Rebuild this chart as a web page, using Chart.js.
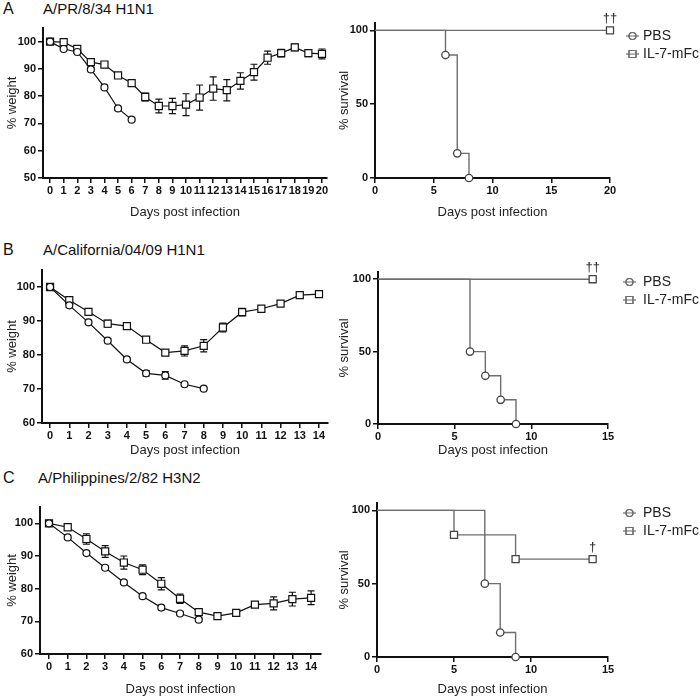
<!DOCTYPE html>
<html>
<head>
<meta charset="utf-8">
<script src="https://cdn.jsdelivr.net/npm/chart.js@4.4.1/dist/chart.umd.min.js"></script>
<style>
  body { margin: 0; background: #fff; font-family: 'Liberation Sans', Arial, sans-serif; }
  #wrap { position: relative; width: 700px; height: 699px; overflow: hidden; }
  canvas { position: absolute; }
  .lbl { position: absolute; font-size: 16px; line-height: 16px; color: #111; white-space: nowrap; }
  .ttl { font-size: 15px; }
</style>
</head>
<body>
<div id="wrap">
  <div class="lbl" style="left:3px;top:1px">A</div>
  <div class="lbl ttl" style="left:43px;top:1px">A/PR/8/34 H1N1</div>
  <div class="lbl" style="left:3px;top:242px">B</div>
  <div class="lbl ttl" style="left:43px;top:242px">A/California/04/09 H1N1</div>
  <div class="lbl" style="left:3px;top:470px">C</div>
  <div class="lbl ttl" style="left:38px;top:470px">A/Philippines/2/82 H3N2</div>

  <canvas id="weightA" width="335" height="222" style="left:0;top:0"></canvas>
  <canvas id="survA" width="370" height="222" style="left:330px;top:0"></canvas>
  <canvas id="weightB" width="335" height="220" style="left:0;top:240px"></canvas>
  <canvas id="survB" width="370" height="220" style="left:330px;top:240px"></canvas>
  <canvas id="weightC" width="335" height="229" style="left:0;top:470px"></canvas>
  <canvas id="survC" width="370" height="229" style="left:330px;top:470px"></canvas>
</div>
<script>
// Panel A - A/PR/8/34 H1N1
const aDays = [0, 1, 2, 3, 4, 5, 6, 7, 8, 9, 10, 11, 12, 13, 14, 15, 16, 17, 18, 19, 20];
const aPbsDays = [0, 1, 2, 3, 4, 5, 6];
const aPbsWeight = [100, 97.3, 96.2, 89.8, 83.2, 75.5, 71.4];
const aPbsErr = [0, 0.3, 0.5, 0.6, 0.5, 0.5, 0.5];
const aIl7Weight = [100, 99.8, 97.3, 92.5, 91.6, 87.6, 84.8, 79.7, 76.4, 76.4, 76.9, 79.5, 82.8, 82.2, 85.6, 88.8, 94.1, 95.8, 97.9, 95.8, 95.5];
const aIl7Err = [0, 0.6, 0.8, 0.8, 0.6, 1.0, 1.2, 1.4, 2.5, 2.8, 4.0, 4.6, 4.3, 3.9, 3.0, 2.9, 2.4, 1.4, 1.2, 1.3, 1.8];
const aWeightTicks = [50, 60, 70, 80, 90, 100];
const aSurvPbsDays = [0, 6, 7, 8];
const aSurvPbs = [100, 83.3, 16.7, 0];
const aSurvIl7Days = [0, 20];
const aSurvIl7 = [100, 100];
const aSurvTicksX = [0, 5, 10, 15, 20];

// Panel B - A/California/04/09 H1N1
const bDays = [0, 1, 2, 3, 4, 5, 6, 7, 8, 9, 10, 11, 12, 13, 14];
const bPbsDays = [0, 1, 2, 3, 4, 5, 6, 7, 8];
const bPbsWeight = [100, 94.6, 89.6, 84.2, 78.7, 74.6, 74.0, 71.4, 70.1];
const bPbsErr = [0, 0.6, 0.4, 0.6, 0.4, 0.8, 1.1, 0.4, 0.3];
const bIl7Weight = [100, 96.1, 92.7, 89.2, 88.5, 84.5, 80.7, 81.2, 82.7, 88.1, 92.6, 93.6, 95.1, 97.6, 97.9];
const bIl7Err = [0, 0.5, 0.4, 1.0, 0.5, 0.4, 0.6, 1.5, 1.8, 1.3, 1.1, 0.6, 0.5, 0.4, 0.7];
const bWeightTicks = [60, 70, 80, 90, 100];
const bSurvPbsDays = [0, 6, 7, 8, 9];
const bSurvPbs = [100, 50, 33.3, 16.7, 0];
const bSurvIl7Days = [0, 14];
const bSurvIl7 = [100, 100];

// Panel C - A/Philippines/2/82 H3N2
const cDays = [0, 1, 2, 3, 4, 5, 6, 7, 8, 9, 10, 11, 12, 13, 14];
const cPbsDays = [0, 1, 2, 3, 4, 5, 6, 7, 8];
const cPbsWeight = [100, 95.7, 90.9, 86.4, 81.9, 77.7, 74.2, 72.4, 70.5];
const cPbsErr = [0, 0.4, 0.4, 0.4, 0.4, 0.4, 0.7, 0.6, 0.4];
const cIl7Weight = [100, 98.8, 95.2, 91.4, 88.0, 85.8, 81.5, 76.9, 72.8, 71.6, 72.6, 75.1, 75.5, 76.8, 77.2];
const cIl7Err = [0, 0.6, 1.6, 1.8, 2.0, 1.5, 1.9, 1.4, 0.8, 0.4, 0.4, 0.5, 2.0, 2.1, 2.1];
const cWeightTicks = [60, 70, 80, 90, 100];
const cSurvPbsDays = [0, 7, 8, 9];
const cSurvPbs = [100, 50, 16.7, 0];
const cSurvIl7Days = [0, 5, 9, 14];
const cSurvIl7 = [100, 83.3, 66.7, 66.7];

const survTicksY = [0, 50, 100];
const survTicks15 = [0, 5, 10, 15];
const seriesNames = ['PBS', 'IL-7-mFc'];

const FONT = "'Liberation Sans', Arial, sans-serif";
const tickFont = { family: FONT, size: 11, weight: 'bold' };
const titleFont = { family: FONT, size: 13 };
const survGrey = '#6e6e6e';

function pairs(xs, ys) {
    return xs.map(function(x, i) { return { x: x, y: ys[i] }; });
}

// error bars (SD) drawn behind the markers
const errorBarPlugin = {
    id: 'errorBars',
    beforeDatasetsDraw(chart) {
        const ctx = chart.ctx;
        const xs = chart.scales.x, ys = chart.scales.y;
        chart.data.datasets.forEach(function(ds) {
            if (!ds.errorBars) return;
            ctx.save();
            ctx.strokeStyle = '#111';
            ctx.lineWidth = 1.2;
            ds.data.forEach(function(p, i) {
                const e = ds.errorBars[i];
                if (!e) return;
                const px = xs.getPixelForValue(p.x);
                const top = ys.getPixelForValue(p.y + e);
                const bot = ys.getPixelForValue(p.y - e);
                ctx.beginPath();
                ctx.moveTo(px, top); ctx.lineTo(px, bot);
                ctx.moveTo(px - 3.5, top); ctx.lineTo(px + 3.5, top);
                ctx.moveTo(px - 3.5, bot); ctx.lineTo(px + 3.5, bot);
                ctx.stroke();
            });
            ctx.restore();
        });
    }
};

// legend with line + marker, and dagger marks
const survExtras = {
    id: 'survExtras',
    afterDraw(chart, args, opts) {
        const ctx = chart.ctx;
        const area = chart.chartArea;
        ctx.save();
        // daggers
        if (opts.dagger) {
            const d = opts.dagger;
            ctx.fillStyle = '#222';
            ctx.font = '13px ' + FONT;
            ctx.textAlign = 'center';
            ctx.textBaseline = 'bottom';
            ctx.fillText(d.text, chart.scales.x.getPixelForValue(d.x), chart.scales.y.getPixelForValue(d.y) - 5);
        }
        // legend
        const x0 = area.right + opts.legendX;
        chart.data.datasets.forEach(function(ds, i) {
            const y = opts.legendY + i * 18;
            ctx.strokeStyle = survGrey;
            ctx.lineWidth = 1.2;
            ctx.beginPath();
            ctx.moveTo(x0, y); ctx.lineTo(x0 + 13, y);
            ctx.stroke();
            ctx.fillStyle = '#fff';
            ctx.beginPath();
            if (ds.pointStyle === 'rect') {
                ctx.rect(x0 + 3, y - 3.5, 7, 7);
            } else {
                ctx.arc(x0 + 6.5, y, 3.5, 0, Math.PI * 2);
            }
            ctx.fill();
            ctx.stroke();
            ctx.moveTo(x0 + 3, y); ctx.lineTo(x0 + 10, y);
            ctx.stroke();
            ctx.fillStyle = '#222';
            ctx.font = '14px ' + FONT;
            ctx.textAlign = 'left';
            ctx.textBaseline = 'middle';
            ctx.fillText(ds.label, x0 + opts.textGap, y);
        });
        ctx.restore();
    }
};

function axis(min, max, ticks, size, isX, title, titlePad) {
    return {
        type: 'linear',
        min: min,
        max: max,
        afterBuildTicks: function(s) { s.ticks = ticks.map(function(v) { return { value: v }; }); },
        afterFit: function(s) { if (isX) { s.height = size; } else { s.width = size; } },
        grid: { drawOnChartArea: false, drawTicks: true, tickLength: 5, color: '#111', lineWidth: 1.5 },
        border: { color: '#111', width: 2 },
        ticks: { font: tickFont, color: '#111', padding: isX ? 1 : 2, autoSkip: false, maxRotation: 0 },
        title: { display: true, text: title, font: titleFont, color: '#222', padding: titlePad }
    };
}

function weightChart(id, pbsDays, pbsW, pbsE, il7Days, il7W, il7E, xMin, xMax, yMin, yTicks, yWidth, xHeight, pad) {
    return new Chart(document.getElementById(id), {
        type: 'line',
        data: {
            datasets: [{
                label: seriesNames[0],
                data: pairs(pbsDays, pbsW),
                errorBars: pbsE,
                borderColor: '#111',
                borderWidth: 1.2,
                pointStyle: 'circle',
                pointRadius: 3.5,
                pointBackgroundColor: '#fff',
                pointBorderColor: '#111',
                pointBorderWidth: 1.2,
                clip: false
            }, {
                label: seriesNames[1],
                data: pairs(il7Days, il7W),
                errorBars: il7E,
                borderColor: '#111',
                borderWidth: 1.2,
                pointStyle: 'rect',
                pointRadius: 5,
                pointBackgroundColor: '#fff',
                pointBorderColor: '#111',
                pointBorderWidth: 1.2,
                clip: false
            }]
        },
        options: {
            responsive: false,
            animation: false,
            events: [],
            layout: { padding: pad },
            scales: {
                x: axis(xMin, xMax, il7Days, xHeight, true, 'Days post infection', { top: 0, bottom: 2 }),
                y: axis(yMin, 105, yTicks, yWidth, false, '% weight', { top: 5, bottom: 0 })
            },
            plugins: { legend: { display: false }, tooltip: { enabled: false } }
        },
        plugins: [errorBarPlugin]
    });
}

function survChart(id, pbsDays, pbs, il7Days, il7, xMax, xTicks, dagger, yWidth, xHeight, pad, legendX, legendY, textGap) {
    const radii = function(arr, r) { return arr.map(function(v, i) { return i === 0 ? 0 : r; }); };
    return new Chart(document.getElementById(id), {
        type: 'line',
        data: {
            datasets: [{
                label: seriesNames[0],
                data: pairs(pbsDays, pbs),
                stepped: true,
                borderColor: survGrey,
                borderWidth: 1.4,
                pointStyle: 'circle',
                pointRadius: radii(pbsDays, 3.7),
                pointBackgroundColor: '#fff',
                pointBorderColor: '#444',
                pointBorderWidth: 1.3,
                clip: false
            }, {
                label: seriesNames[1],
                data: pairs(il7Days, il7),
                stepped: true,
                borderColor: survGrey,
                borderWidth: 1.4,
                pointStyle: 'rect',
                pointRadius: radii(il7Days, 5),
                pointBackgroundColor: '#fff',
                pointBorderColor: '#444',
                pointBorderWidth: 1.3,
                clip: false
            }]
        },
        options: {
            responsive: false,
            animation: false,
            events: [],
            layout: { padding: pad },
            scales: {
                x: axis(0, xMax, xTicks, xHeight, true, 'Days post infection', { top: 0, bottom: 2 }),
                y: axis(0, 105, survTicksY, yWidth, false, '% survival', { top: 7, bottom: 0 })
            },
            plugins: {
                legend: { display: false },
                tooltip: { enabled: false },
                survExtras: { dagger: dagger, legendX: legendX, legendY: legendY, textGap: textGap }
            }
        },
        plugins: [survExtras]
    });
}

weightChart('weightA', aPbsDays, aPbsWeight, aPbsErr, aDays, aIl7Weight, aIl7Err,
    -0.52, 20.37, 50, aWeightTicks, 43, 44, { top: 28, right: 8, left: 0, bottom: 0 });
survChart('survA', aSurvPbsDays, aSurvPbs, aSurvIl7Days, aSurvIl7, 20, aSurvTicksX,
    { text: '††', x: 20, y: 100 }, 45, 44, { top: 23, right: 90, left: 0, bottom: 0 }, 16, 36, 17);

weightChart('weightB', bPbsDays, bPbsWeight, bPbsErr, bDays, bIl7Weight, bIl7Err,
    -0.42, 14.47, 60, bWeightTicks, 42, 37, { top: 30, right: 7, left: 0, bottom: 0 });
survChart('survB', bSurvPbsDays, bSurvPbs, bSurvIl7Days, bSurvIl7, 15, survTicks15,
    { text: '††', x: 14, y: 100 }, 48, 36, { top: 32, right: 92, left: 0, bottom: 0 }, 15, 42, 20);

weightChart('weightC', cPbsDays, cPbsWeight, cPbsErr, cDays, cIl7Weight, cIl7Err,
    -0.48, 14.53, 60, cWeightTicks, 40, 45, { top: 37, right: 14, left: 0, bottom: 0 });
survChart('survC', cSurvPbsDays, cSurvPbs, cSurvIl7Days, cSurvIl7, 15, survTicks15,
    { text: '†', x: 14, y: 66.7 }, 47, 42, { top: 33, right: 92, left: 0, bottom: 0 }, 15, 43, 20);
</script>
</body>
</html>
